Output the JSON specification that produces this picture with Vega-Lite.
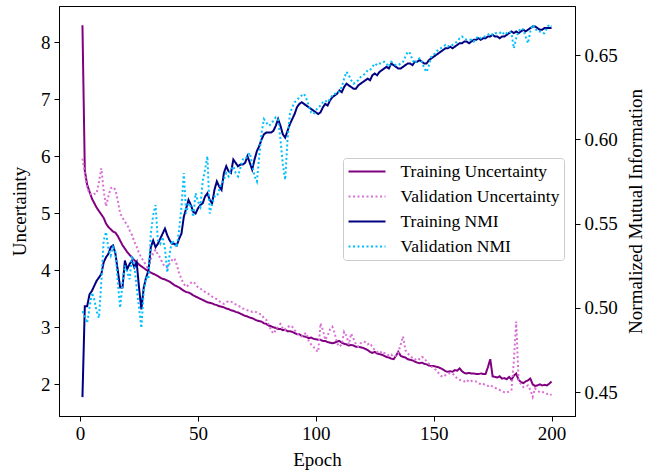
{
"$schema": "https://vega.github.io/schema/vega-lite/v6.json",
"width": 516, "height": 410,
"autosize": {"type": "none"},
"padding": {"left": 59, "top": 6, "right": 82, "bottom": 59},
"background": "white",
"config": {
 "view": {"stroke": "black", "strokeWidth": 1},
 "font": "Liberation Serif",
 "axis": {"labelFont": "Liberation Serif", "labelFontSize": 19, "titleFont": "Liberation Serif", "titleFontSize": 19, "titleFontWeight": "normal", "labelColor": "black", "titleColor": "black", "domainColor": "black", "tickColor": "black", "grid": false, "tickSize": 5, "labelPadding": 4, "labelFlush": false}
},
"data": {"values": [
{"e":1,"tu":8.30,"vu":5.96,"tn":0.447,"vn":0.498},
{"e":2,"tu":5.75,"vu":5.70,"tn":0.501,"vn":0.495},
{"e":3,"tu":5.50,"vu":5.45,"tn":0.501,"vn":0.491},
{"e":4,"tu":5.38,"vu":5.35,"tn":0.508,"vn":0.500},
{"e":5,"tu":5.26,"vu":5.32,"tn":0.510,"vn":0.509},
{"e":6,"tu":5.18,"vu":5.34,"tn":0.513,"vn":0.505},
{"e":7,"tu":5.10,"vu":5.35,"tn":0.516,"vn":0.498},
{"e":8,"tu":5.04,"vu":5.55,"tn":0.518,"vn":0.494},
{"e":9,"tu":4.98,"vu":5.79,"tn":0.520,"vn":0.515},
{"e":10,"tu":4.92,"vu":5.40,"tn":0.527,"vn":0.540},
{"e":11,"tu":4.82,"vu":5.12,"tn":0.530,"vn":0.545},
{"e":12,"tu":4.76,"vu":5.30,"tn":0.532,"vn":0.535},
{"e":13,"tu":4.72,"vu":5.44,"tn":0.536,"vn":0.531},
{"e":14,"tu":4.68,"vu":5.46,"tn":0.537,"vn":0.536},
{"e":15,"tu":4.66,"vu":5.41,"tn":0.532,"vn":0.533},
{"e":16,"tu":4.60,"vu":5.22,"tn":0.522,"vn":0.515},
{"e":17,"tu":4.52,"vu":5.00,"tn":0.512,"vn":0.500},
{"e":18,"tu":4.44,"vu":4.92,"tn":0.512,"vn":0.515},
{"e":19,"tu":4.38,"vu":4.85,"tn":0.528,"vn":0.525},
{"e":20,"tu":4.32,"vu":4.80,"tn":0.523,"vn":0.521},
{"e":21,"tu":4.27,"vu":4.70,"tn":0.526,"vn":0.517},
{"e":22,"tu":4.23,"vu":4.62,"tn":0.528,"vn":0.531},
{"e":23,"tu":4.18,"vu":4.50,"tn":0.524,"vn":0.525},
{"e":24,"tu":4.14,"vu":4.41,"tn":0.527,"vn":0.512},
{"e":25,"tu":4.10,"vu":4.30,"tn":0.512,"vn":0.500},
{"e":26,"tu":4.07,"vu":4.22,"tn":0.499,"vn":0.488},
{"e":27,"tu":4.04,"vu":4.16,"tn":0.512,"vn":0.510},
{"e":28,"tu":4.01,"vu":4.08,"tn":0.518,"vn":0.518},
{"e":29,"tu":3.98,"vu":4.02,"tn":0.522,"vn":0.517},
{"e":30,"tu":3.96,"vu":4.20,"tn":0.536,"vn":0.544},
{"e":31,"tu":3.94,"vu":4.30,"tn":0.540,"vn":0.555},
{"e":32,"tu":3.92,"vu":4.36,"tn":0.536,"vn":0.561},
{"e":33,"tu":3.90,"vu":4.28,"tn":0.538,"vn":0.540},
{"e":34,"tu":3.87,"vu":4.22,"tn":0.541,"vn":0.538},
{"e":35,"tu":3.85,"vu":4.12,"tn":0.544,"vn":0.542},
{"e":36,"tu":3.84,"vu":4.06,"tn":0.547,"vn":0.535},
{"e":37,"tu":3.82,"vu":4.05,"tn":0.543,"vn":0.521},
{"e":38,"tu":3.80,"vu":4.12,"tn":0.540,"vn":0.532},
{"e":39,"tu":3.77,"vu":4.18,"tn":0.538,"vn":0.540},
{"e":40,"tu":3.74,"vu":4.21,"tn":0.538,"vn":0.538},
{"e":41,"tu":3.72,"vu":4.10,"tn":0.537,"vn":0.536},
{"e":42,"tu":3.70,"vu":3.95,"tn":0.541,"vn":0.546},
{"e":43,"tu":3.67,"vu":3.85,"tn":0.544,"vn":0.560},
{"e":44,"tu":3.64,"vu":3.76,"tn":0.554,"vn":0.580},
{"e":45,"tu":3.62,"vu":3.71,"tn":0.559,"vn":0.556},
{"e":46,"tu":3.61,"vu":3.74,"tn":0.564,"vn":0.562},
{"e":47,"tu":3.59,"vu":3.78,"tn":0.561,"vn":0.560},
{"e":48,"tu":3.56,"vu":3.80,"tn":0.557,"vn":0.554},
{"e":49,"tu":3.54,"vu":3.76,"tn":0.556,"vn":0.568},
{"e":50,"tu":3.52,"vu":3.70,"tn":0.559,"vn":0.563},
{"e":51,"tu":3.50,"vu":3.68,"tn":0.561,"vn":0.560},
{"e":52,"tu":3.48,"vu":3.65,"tn":0.562,"vn":0.575},
{"e":53,"tu":3.46,"vu":3.62,"tn":0.566,"vn":0.582},
{"e":54,"tu":3.44,"vu":3.60,"tn":0.568,"vn":0.590},
{"e":55,"tu":3.43,"vu":3.57,"tn":0.564,"vn":0.556},
{"e":56,"tu":3.42,"vu":3.54,"tn":0.562,"vn":0.562},
{"e":57,"tu":3.40,"vu":3.52,"tn":0.570,"vn":0.566},
{"e":58,"tu":3.39,"vu":3.49,"tn":0.575,"vn":0.566},
{"e":59,"tu":3.37,"vu":3.46,"tn":0.572,"vn":0.570},
{"e":60,"tu":3.36,"vu":3.43,"tn":0.570,"vn":0.574},
{"e":61,"tu":3.35,"vu":3.41,"tn":0.580,"vn":0.576},
{"e":62,"tu":3.33,"vu":3.44,"tn":0.584,"vn":0.580},
{"e":63,"tu":3.32,"vu":3.46,"tn":0.581,"vn":0.578},
{"e":64,"tu":3.30,"vu":3.45,"tn":0.580,"vn":0.582},
{"e":65,"tu":3.29,"vu":3.43,"tn":0.588,"vn":0.584},
{"e":66,"tu":3.27,"vu":3.40,"tn":0.586,"vn":0.580},
{"e":67,"tu":3.26,"vu":3.38,"tn":0.584,"vn":0.578},
{"e":68,"tu":3.24,"vu":3.36,"tn":0.585,"vn":0.583},
{"e":69,"tu":3.22,"vu":3.33,"tn":0.585,"vn":0.588},
{"e":70,"tu":3.20,"vu":3.32,"tn":0.586,"vn":0.588},
{"e":71,"tu":3.19,"vu":3.30,"tn":0.590,"vn":0.590},
{"e":72,"tu":3.17,"vu":3.29,"tn":0.586,"vn":0.592},
{"e":73,"tu":3.16,"vu":3.27,"tn":0.582,"vn":0.585},
{"e":74,"tu":3.14,"vu":3.28,"tn":0.588,"vn":0.578},
{"e":75,"tu":3.12,"vu":3.26,"tn":0.593,"vn":0.575},
{"e":76,"tu":3.11,"vu":3.24,"tn":0.596,"vn":0.590},
{"e":77,"tu":3.10,"vu":3.22,"tn":0.600,"vn":0.604},
{"e":78,"tu":3.07,"vu":3.16,"tn":0.603,"vn":0.612},
{"e":79,"tu":3.06,"vu":3.13,"tn":0.604,"vn":0.610},
{"e":80,"tu":3.03,"vu":3.05,"tn":0.604,"vn":0.608},
{"e":81,"tu":3.02,"vu":2.95,"tn":0.604,"vn":0.609},
{"e":82,"tu":3.00,"vu":2.89,"tn":0.605,"vn":0.611},
{"e":83,"tu":2.99,"vu":2.95,"tn":0.608,"vn":0.613},
{"e":84,"tu":2.97,"vu":3.02,"tn":0.612,"vn":0.612},
{"e":85,"tu":2.97,"vu":3.06,"tn":0.608,"vn":0.600},
{"e":86,"tu":2.95,"vu":2.98,"tn":0.603,"vn":0.585},
{"e":87,"tu":2.96,"vu":2.95,"tn":0.601,"vn":0.576},
{"e":88,"tu":2.93,"vu":3.00,"tn":0.605,"vn":0.600},
{"e":89,"tu":2.93,"vu":3.03,"tn":0.609,"vn":0.615},
{"e":90,"tu":2.92,"vu":3.01,"tn":0.612,"vn":0.619},
{"e":91,"tu":2.90,"vu":2.95,"tn":0.615,"vn":0.622},
{"e":92,"tu":2.88,"vu":2.90,"tn":0.619,"vn":0.623},
{"e":93,"tu":2.88,"vu":2.86,"tn":0.621,"vn":0.625},
{"e":94,"tu":2.85,"vu":2.84,"tn":0.622,"vn":0.626},
{"e":95,"tu":2.84,"vu":2.88,"tn":0.621,"vn":0.627},
{"e":96,"tu":2.83,"vu":2.90,"tn":0.620,"vn":0.624},
{"e":97,"tu":2.81,"vu":2.76,"tn":0.619,"vn":0.620},
{"e":98,"tu":2.82,"vu":2.70,"tn":0.618,"vn":0.616},
{"e":99,"tu":2.80,"vu":2.66,"tn":0.617,"vn":0.615},
{"e":100,"tu":2.79,"vu":2.60,"tn":0.616,"vn":0.617},
{"e":101,"tu":2.78,"vu":2.57,"tn":0.615,"vn":0.619},
{"e":102,"tu":2.78,"vu":3.07,"tn":0.616,"vn":0.620},
{"e":103,"tu":2.76,"vu":2.95,"tn":0.619,"vn":0.622},
{"e":104,"tu":2.76,"vu":2.78,"tn":0.621,"vn":0.623},
{"e":105,"tu":2.74,"vu":2.85,"tn":0.620,"vn":0.622},
{"e":106,"tu":2.73,"vu":2.96,"tn":0.623,"vn":0.624},
{"e":107,"tu":2.72,"vu":3.01,"tn":0.625,"vn":0.626},
{"e":108,"tu":2.73,"vu":2.90,"tn":0.626,"vn":0.627},
{"e":109,"tu":2.75,"vu":2.72,"tn":0.627,"vn":0.627},
{"e":110,"tu":2.76,"vu":2.66,"tn":0.629,"vn":0.629},
{"e":111,"tu":2.73,"vu":2.70,"tn":0.628,"vn":0.631},
{"e":112,"tu":2.71,"vu":2.92,"tn":0.631,"vn":0.636},
{"e":113,"tu":2.70,"vu":2.85,"tn":0.633,"vn":0.640},
{"e":114,"tu":2.68,"vu":2.70,"tn":0.632,"vn":0.638},
{"e":115,"tu":2.69,"vu":2.89,"tn":0.631,"vn":0.635},
{"e":116,"tu":2.68,"vu":2.80,"tn":0.630,"vn":0.633},
{"e":117,"tu":2.66,"vu":2.70,"tn":0.630,"vn":0.634},
{"e":118,"tu":2.66,"vu":2.66,"tn":0.632,"vn":0.635},
{"e":119,"tu":2.65,"vu":2.72,"tn":0.633,"vn":0.637},
{"e":120,"tu":2.64,"vu":2.75,"tn":0.634,"vn":0.638},
{"e":121,"tu":2.62,"vu":2.74,"tn":0.635,"vn":0.639},
{"e":122,"tu":2.60,"vu":2.70,"tn":0.636,"vn":0.641},
{"e":123,"tu":2.57,"vu":2.72,"tn":0.635,"vn":0.641},
{"e":124,"tu":2.55,"vu":2.65,"tn":0.638,"vn":0.643},
{"e":125,"tu":2.57,"vu":2.60,"tn":0.639,"vn":0.645},
{"e":126,"tu":2.54,"vu":2.57,"tn":0.638,"vn":0.644},
{"e":127,"tu":2.53,"vu":2.54,"tn":0.640,"vn":0.645},
{"e":128,"tu":2.52,"vu":2.58,"tn":0.641,"vn":0.645},
{"e":129,"tu":2.50,"vu":2.55,"tn":0.642,"vn":0.646},
{"e":130,"tu":2.48,"vu":2.54,"tn":0.643,"vn":0.645},
{"e":131,"tu":2.47,"vu":2.50,"tn":0.642,"vn":0.643},
{"e":132,"tu":2.45,"vu":2.52,"tn":0.645,"vn":0.646},
{"e":133,"tu":2.44,"vu":2.48,"tn":0.644,"vn":0.645},
{"e":134,"tu":2.50,"vu":2.50,"tn":0.643,"vn":0.644},
{"e":135,"tu":2.57,"vu":2.55,"tn":0.642,"vn":0.644},
{"e":136,"tu":2.50,"vu":2.70,"tn":0.642,"vn":0.645},
{"e":137,"tu":2.48,"vu":2.84,"tn":0.643,"vn":0.646},
{"e":138,"tu":2.47,"vu":2.60,"tn":0.644,"vn":0.649},
{"e":139,"tu":2.44,"vu":2.54,"tn":0.645,"vn":0.652},
{"e":140,"tu":2.43,"vu":2.50,"tn":0.645,"vn":0.651},
{"e":141,"tu":2.42,"vu":2.46,"tn":0.644,"vn":0.647},
{"e":142,"tu":2.40,"vu":2.43,"tn":0.646,"vn":0.645},
{"e":143,"tu":2.38,"vu":2.46,"tn":0.646,"vn":0.647},
{"e":144,"tu":2.37,"vu":2.44,"tn":0.647,"vn":0.648},
{"e":145,"tu":2.38,"vu":2.48,"tn":0.646,"vn":0.646},
{"e":146,"tu":2.36,"vu":2.46,"tn":0.645,"vn":0.642},
{"e":147,"tu":2.35,"vu":2.40,"tn":0.645,"vn":0.640},
{"e":148,"tu":2.33,"vu":2.36,"tn":0.647,"vn":0.644},
{"e":149,"tu":2.32,"vu":2.31,"tn":0.648,"vn":0.649},
{"e":150,"tu":2.32,"vu":2.28,"tn":0.649,"vn":0.650},
{"e":151,"tu":2.31,"vu":2.25,"tn":0.650,"vn":0.652},
{"e":152,"tu":2.30,"vu":2.20,"tn":0.651,"vn":0.653},
{"e":153,"tu":2.28,"vu":2.15,"tn":0.652,"vn":0.654},
{"e":154,"tu":2.26,"vu":2.13,"tn":0.653,"vn":0.655},
{"e":155,"tu":2.23,"vu":2.16,"tn":0.654,"vn":0.656},
{"e":156,"tu":2.22,"vu":2.18,"tn":0.654,"vn":0.655},
{"e":157,"tu":2.23,"vu":2.20,"tn":0.655,"vn":0.656},
{"e":158,"tu":2.22,"vu":2.19,"tn":0.654,"vn":0.656},
{"e":159,"tu":2.25,"vu":2.15,"tn":0.655,"vn":0.657},
{"e":160,"tu":2.24,"vu":2.10,"tn":0.656,"vn":0.658},
{"e":161,"tu":2.28,"vu":2.08,"tn":0.657,"vn":0.660},
{"e":162,"tu":2.23,"vu":2.06,"tn":0.657,"vn":0.661},
{"e":163,"tu":2.20,"vu":2.05,"tn":0.658,"vn":0.660},
{"e":164,"tu":2.19,"vu":2.08,"tn":0.658,"vn":0.659},
{"e":165,"tu":2.20,"vu":2.04,"tn":0.657,"vn":0.659},
{"e":166,"tu":2.19,"vu":2.06,"tn":0.658,"vn":0.659},
{"e":167,"tu":2.19,"vu":2.05,"tn":0.659,"vn":0.658},
{"e":168,"tu":2.18,"vu":2.05,"tn":0.659,"vn":0.660},
{"e":169,"tu":2.18,"vu":2.02,"tn":0.660,"vn":0.661},
{"e":170,"tu":2.19,"vu":2.00,"tn":0.659,"vn":0.660},
{"e":171,"tu":2.18,"vu":2.01,"tn":0.660,"vn":0.661},
{"e":172,"tu":2.18,"vu":1.98,"tn":0.660,"vn":0.661},
{"e":173,"tu":2.30,"vu":1.97,"tn":0.661,"vn":0.662},
{"e":174,"tu":2.44,"vu":1.99,"tn":0.661,"vn":0.663},
{"e":175,"tu":2.14,"vu":1.96,"tn":0.662,"vn":0.662},
{"e":176,"tu":2.13,"vu":1.94,"tn":0.661,"vn":0.663},
{"e":177,"tu":2.12,"vu":1.92,"tn":0.661,"vn":0.663},
{"e":178,"tu":2.14,"vu":1.90,"tn":0.660,"vn":0.663},
{"e":179,"tu":2.10,"vu":1.88,"tn":0.661,"vn":0.664},
{"e":180,"tu":2.11,"vu":1.86,"tn":0.661,"vn":0.662},
{"e":181,"tu":2.09,"vu":1.85,"tn":0.662,"vn":0.663},
{"e":182,"tu":2.13,"vu":1.88,"tn":0.663,"vn":0.664},
{"e":183,"tu":2.08,"vu":1.90,"tn":0.664,"vn":0.663},
{"e":184,"tu":2.15,"vu":2.40,"tn":0.663,"vn":0.654},
{"e":185,"tu":2.19,"vu":3.10,"tn":0.664,"vn":0.660},
{"e":186,"tu":2.08,"vu":2.08,"tn":0.663,"vn":0.664},
{"e":187,"tu":2.04,"vu":2.00,"tn":0.664,"vn":0.666},
{"e":188,"tu":2.02,"vu":1.95,"tn":0.665,"vn":0.665},
{"e":189,"tu":2.05,"vu":1.96,"tn":0.664,"vn":0.661},
{"e":190,"tu":2.07,"vu":1.98,"tn":0.665,"vn":0.657},
{"e":191,"tu":2.10,"vu":1.90,"tn":0.666,"vn":0.664},
{"e":192,"tu":2.00,"vu":1.78,"tn":0.667,"vn":0.668},
{"e":193,"tu":1.97,"vu":1.93,"tn":0.667,"vn":0.666},
{"e":194,"tu":1.98,"vu":1.89,"tn":0.666,"vn":0.664},
{"e":195,"tu":2.00,"vu":1.86,"tn":0.665,"vn":0.664},
{"e":196,"tu":1.98,"vu":1.87,"tn":0.665,"vn":0.663},
{"e":197,"tu":1.99,"vu":1.85,"tn":0.666,"vn":0.663},
{"e":198,"tu":1.98,"vu":1.83,"tn":0.666,"vn":0.666},
{"e":199,"tu":2.01,"vu":1.84,"tn":0.666,"vn":0.668},
{"e":200,"tu":2.05,"vu":1.81,"tn":0.666,"vn":0.667}
]},
"layer": [
 {
  "transform": [{"fold": ["tu", "vu"], "as": ["series", "value"]}],
  "mark": {"type": "line", "strokeWidth": 2},
  "encoding": {
   "x": {"field": "e", "type": "quantitative", "scale": {"domain": [-8.95, 209.95], "nice": false, "zero": false}, "axis": {"title": "Epoch", "values": [0, 50, 100, 150, 200], "labelPadding": 3, "titlePadding": 7}},
   "y": {"field": "value", "type": "quantitative", "scale": {"domain": [1.444, 8.637], "nice": false, "zero": false}, "axis": {"orient": "left", "title": "Uncertainty", "values": [2, 3, 4, 5, 6, 7, 8], "titlePadding": 11}},
   "color": {"field": "series", "type": "nominal", "scale": {"domain": ["tu", "vu", "tn", "vn"], "range": ["#800080", "#DA70D6", "#000080", "#00BFFF"]},
    "legend": {"title": null, "orient": "none", "legendX": 284, "legendY": 152, "labelExpr": "{'tu':'Training Uncertainty','vu':'Validation Uncertainty','tn':'Training NMI','vn':'Validation NMI'}[datum.label]", "symbolType": "stroke", "symbolSize": 1369, "symbolStrokeWidth": 2, "labelFont": "Liberation Serif", "labelFontSize": 17.5, "labelColor": "black", "labelOffset": 14, "clipHeight": 18, "rowPadding": 7, "padding": 4.5, "fillColor": "rgba(255,255,255,0.8)", "strokeColor": "#cccccc", "cornerRadius": 3}},
   "strokeDash": {"field": "series", "type": "nominal", "scale": {"domain": ["tu", "vu", "tn", "vn"], "range": [[1, 0], [2, 2.5], [1, 0], [2, 2.5]]},
    "legend": {"title": null, "orient": "none", "legendX": 284, "legendY": 152, "labelExpr": "{'tu':'Training Uncertainty','vu':'Validation Uncertainty','tn':'Training NMI','vn':'Validation NMI'}[datum.label]", "symbolType": "stroke", "symbolSize": 1369, "symbolStrokeWidth": 2, "labelFont": "Liberation Serif", "labelFontSize": 17.5, "labelColor": "black", "labelOffset": 14, "clipHeight": 18, "rowPadding": 7, "padding": 4.5, "fillColor": "rgba(255,255,255,0.8)", "strokeColor": "#cccccc", "cornerRadius": 3}}
  }
 },
 {
  "transform": [{"fold": ["tn", "vn"], "as": ["series", "value"]}],
  "mark": {"type": "line", "strokeWidth": 2},
  "encoding": {
   "x": {"field": "e", "type": "quantitative"},
   "y": {"field": "value", "type": "quantitative", "scale": {"domain": [0.4358, 0.6791], "nice": false, "zero": false}, "axis": {"orient": "right", "title": "Normalized Mutual Information", "values": [0.45, 0.5, 0.55, 0.6, 0.65], "format": ".2f", "titleAngle": 270, "titlePadding": 28}},
   "color": {"field": "series", "type": "nominal"},
   "strokeDash": {"field": "series", "type": "nominal"}
  }
 }
],
"resolve": {"scale": {"y": "independent"}}
}
